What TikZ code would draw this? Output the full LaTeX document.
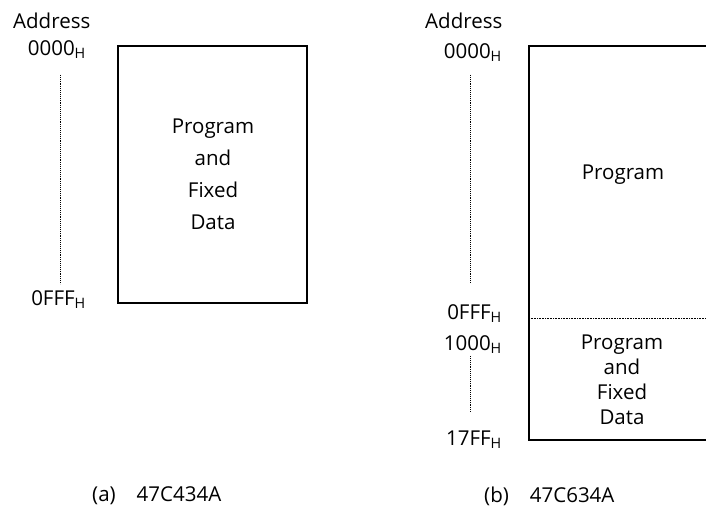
\documentclass[tikz,border=0pt]{standalone}
\usepackage{fontspec}
\setmainfont{Open Sans}
\usetikzlibrary{positioning}

\begin{document}
\begin{tikzpicture}[x=1pt,y=-1pt,
  lbl/.style={font=\fontsize{20.5}{23}\selectfont, inner sep=0pt},
  addr/.style={lbl, anchor=east},
  memtext/.style={lbl, align=center},
  mem/.style={line width=1.6pt},
  gap/.style={densely dotted, line width=0.9pt}]
\useasboundingbox (0,0) rectangle (706,510);
% (a) 47C434A
\node[lbl, anchor=west](a-title) at (13,21){Address};
\node[addr](a-top) at (86,50){0000\textsubscript{H}};
\node[addr](a-end) at (86,300){0FFF\textsubscript{H}};
\draw[gap] (60,75) -- (60,284);
\draw[mem] (118,46) rectangle (307,303);
\node[memtext, font=\fontsize{20.5}{32}\selectfont](a-prog) at (213,174){Program\\and\\Fixed\\Data};
\node[lbl, anchor=west](a-cap) at (92,496){(a)\hspace{21pt}47C434A};
% (b) 47C634A
\node[lbl, anchor=west](b-title) at (425,21){Address};
\node[addr](b-top) at (502,53){0000\textsubscript{H}};
\node[addr](b-mid) at (502,314){0FFF\textsubscript{H}};
\node[addr](b-low) at (502,345){1000\textsubscript{H}};
\node[addr](b-end) at (502,440){17FF\textsubscript{H}};
\draw[gap] (470,75) -- (470,283);
\draw[gap] (470,356) -- (470,412);
\draw[mem] (706,46) -| (529,440) -- (706,440);
\draw[densely dotted, line width=0.6pt] (529,318) -- (706,318);
\node[lbl](b-prog) at (623,175){Program};
\node[memtext, font=\fontsize{20.5}{25}\selectfont](b-data) at (622,380){Program\\and\\Fixed\\Data};
\node[lbl, anchor=west](b-cap) at (484,496){(b)\hspace{21pt}47C634A};
\end{tikzpicture}
\end{document}
